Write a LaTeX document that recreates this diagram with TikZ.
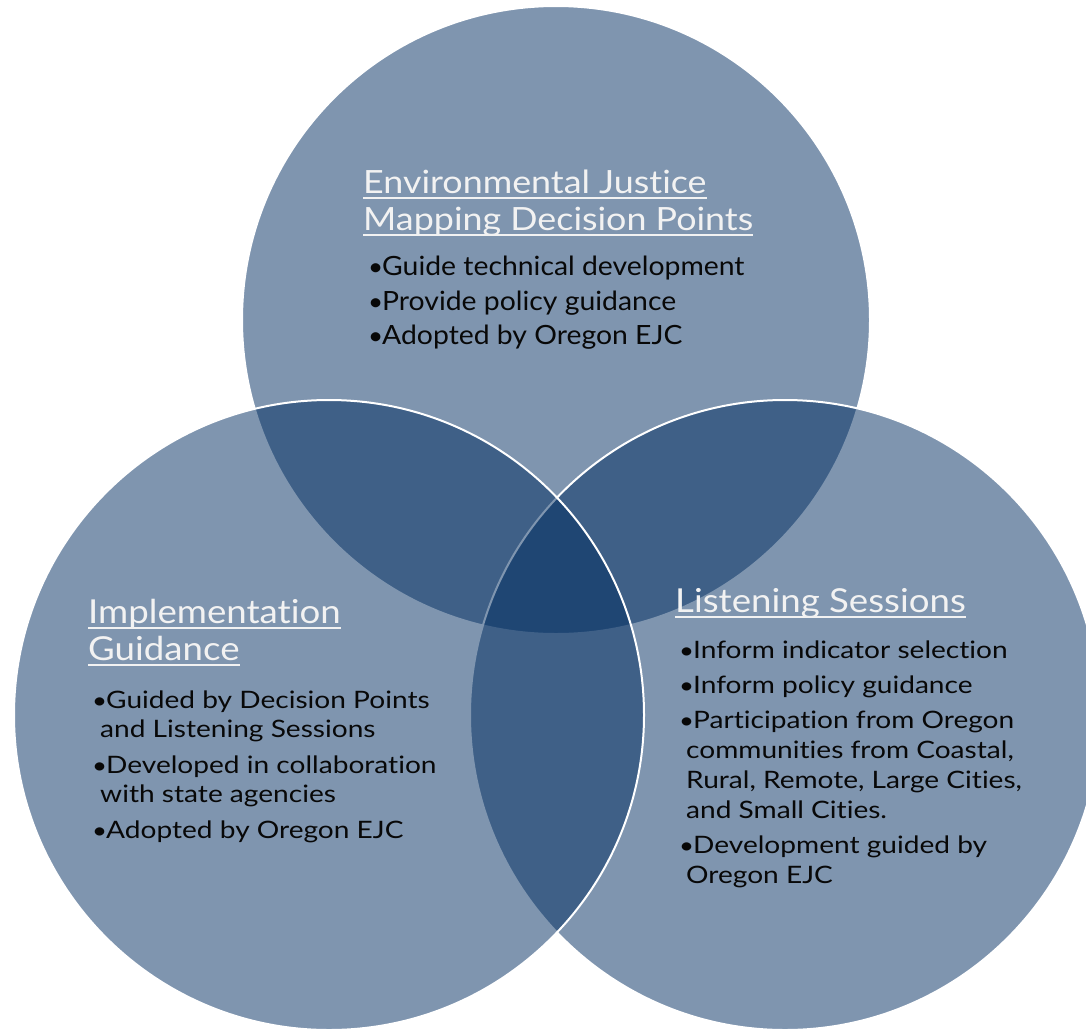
\documentclass[tikz,border=0pt]{standalone}
\usepackage{fontspec}
\setmainfont{Lato}[Ligatures={NoCommon,NoContextual}]
\newfontfamily\tophead[FakeStretch=1.12,Ligatures={NoCommon,NoContextual}]{Lato}
\newfontfamily\topbody[FakeStretch=1.07,Ligatures={NoCommon,NoContextual}]{Lato}
\newfontfamily\sidehead[FakeStretch=1.11,Ligatures={NoCommon,NoContextual}]{Lato}
\newfontfamily\sidebody[FakeStretch=1.17,Ligatures={NoCommon,NoContextual}]{Lato}
\definecolor{vennfill}{RGB}{0,45,97}
\definecolor{headtext}{RGB}{242,242,242}
\definecolor{bodytext}{RGB}{8,8,8}
\tikzset{
  venn/.style={circle, inner sep=0, outer sep=0, fill=vennfill, fill opacity=0.5,
    draw=white, line width=2pt},
  headtop/.style={anchor=base west, inner sep=0, text=headtext,
    font=\tophead\fontsize{32}{32}\selectfont},
  headside/.style={anchor=base west, inner sep=0, text=headtext,
    font=\sidehead\fontsize{33}{33}\selectfont},
  itemtop/.style={anchor=base west, inner sep=0, text=bodytext,
    font=\topbody\fontsize{26.5}{26.5}\selectfont},
  itemside/.style={anchor=base west, inner sep=0, text=bodytext,
    font=\sidebody\fontsize{24}{24}\selectfont},
  uline/.style={draw=headtext, line width=1.6pt},
}
% bullet mark set in a fixed-width box so the item text lines up
\newcommand{\bul}{\makebox[14pt][l]{\scalebox{0.92}{\textbullet}}}
\begin{document}
\begin{tikzpicture}[x=1pt,y=-1pt]
\useasboundingbox (0,0) rectangle (1086,1028);
\fill[white] (0,0) rectangle (1086,1028);
\begin{scope}
\clip (0,0) rectangle (1086,1028);
% the three sets
\node[venn, minimum size=628pt] (topset) at (556,320) {};
\node[venn, minimum size=630pt] (rightset) at (785,715) {};
\node[venn, minimum size=630pt] (leftset) at (329,715) {};
\end{scope}

% Environmental Justice Mapping Decision Points
\node[headtop] (t1) at (363,193) {Environmental Justice};
\node[headtop] (t2) at (363,230) {Mapping Decision Points};
\draw[uline] ([yshift=-5pt]t1.base west) -- ([yshift=-5pt]t1.base east);
\draw[uline] ([yshift=-5pt]t2.base west) -- ([yshift=-5pt]t2.base east);
\node[itemtop] (ta) at (368,275) {\bul Guide technical development};
\node[itemtop] (tb) at (368,310) {\bul Provide policy guidance};
\node[itemtop] (tc) at (368,344) {\bul Adopted by Oregon EJC};

% Implementation Guidance
\node[headside] (l1) at (88,623) {Implementation};
\node[headside] (l2) at (88,660) {Guidance};
\draw[uline] ([yshift=-5pt]l1.base west) -- ([yshift=-5pt]l1.base east);
\draw[uline] ([yshift=-5pt]l2.base west) -- ([yshift=-5pt]l2.base east);
\node[itemside] (la) at (92,708) {\bul Guided by Decision Points};
\node[itemside] (la2) at (100,737) {and Listening Sessions};
\node[itemside] (lb) at (92,773) {\bul Developed in collaboration};
\node[itemside] (lb2) at (100,802) {with state agencies};
\node[itemside] (lc) at (92,838) {\bul Adopted by Oregon EJC};

% Listening Sessions
\node[headside] (r1) at (675,612) {Listening Sessions};
\draw[uline] ([yshift=-5pt]r1.base west) -- ([yshift=-5pt]r1.base east);
\node[itemside] (ra) at (679,658) {\bul Inform indicator selection};
\node[itemside] (rb) at (679,693) {\bul Inform policy guidance};
\node[itemside] (rc) at (679,728) {\bul Participation from Oregon};
\node[itemside] (rc2) at (686,758) {communities from Coastal,};
\node[itemside] (rc3) at (686,788) {Rural, Remote, Large Cities,};
\node[itemside] (rc4) at (686,818) {and Small Cities.};
\node[itemside] (rd) at (679,853) {\bul Development guided by};
\node[itemside] (rd2) at (686,883) {Oregon EJC};
\end{tikzpicture}
\end{document}
